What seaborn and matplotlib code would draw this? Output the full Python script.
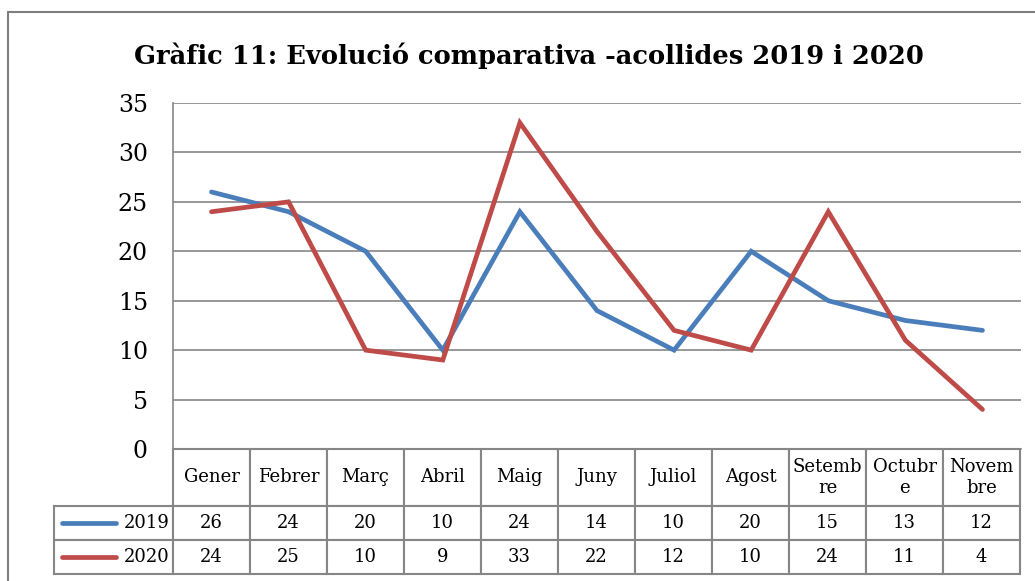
import matplotlib
matplotlib.use('Agg')
import matplotlib.pyplot as plt
import pandas as pd
import seaborn as sns
from matplotlib.patches import Rectangle

# Data
months = ['Gener', 'Febrer', 'Març', 'Abril', 'Maig', 'Juny', 'Juliol',
          'Agost', 'Setembre', 'Octubre', 'Novembre']
# how the month names wrap in the table header
month_labels = ['Gener', 'Febrer', 'Març', 'Abril', 'Maig', 'Juny', 'Juliol',
                'Agost', 'Setemb\nre', 'Octubr\ne', 'Novem\nbre']
acollides_2019 = [26, 24, 20, 10, 24, 14, 10, 20, 15, 13, 12]
acollides_2020 = [24, 25, 10, 9, 33, 22, 12, 10, 24, 11, 4]
series_names = ['2019', '2020']
colors = ['#4A7EBB', '#BE4B48']

df = pd.DataFrame({'mes': months * 2,
                   'pos': list(range(len(months))) * 2,
                   'valor': acollides_2019 + acollides_2020,
                   'any': ['2019'] * len(months) + ['2020'] * len(months)})

sns.set_theme(style='white')
plt.rcParams['font.family'] = ['DejaVu Serif']
plt.rcParams['text.color'] = 'black'
GRID = '#868686'

fig = plt.figure(figsize=(10.35, 5.81), dpi=100)
fig.set_facecolor('white')
# outer chart frame (cut off on the right and bottom like the screenshot)
fig.patches.append(Rectangle((0.0077, -0.1), 1.2, 1.079, transform=fig.transFigure,
                             fill=False, edgecolor='#7f7f7f', linewidth=1.5))

ax = fig.add_axes([0.1671, 0.2272, 0.8194, 0.5955])
sns.lineplot(data=df, x='pos', y='valor', hue='any', palette=colors,
             linewidth=3.4, ax=ax, legend=False, sort=False)
for ln in ax.get_lines():
    ln.set_solid_capstyle('round')
    ln.set_solid_joinstyle('miter')

ax.set_xlim(-0.5, len(months) - 0.5)
ax.set_ylim(0, 35)
ax.set_yticks(range(0, 36, 5))
ax.set_xticks([])
ax.set_xlabel('')
ax.set_ylabel('')
ax.yaxis.grid(True, color=GRID, linewidth=1.2)
ax.set_axisbelow(True)
ax.tick_params(axis='y', labelsize=17, pad=18, length=0, colors='black')
for s in ['top', 'right']:
    ax.spines[s].set_visible(False)
for s in ['left', 'bottom']:
    ax.spines[s].set_color(GRID)
    ax.spines[s].set_linewidth(1.2)

ax.set_title('Gràfic 11: Evolució comparativa -acollides 2019 i 2020',
             fontsize=18.5, fontweight='bold', pad=28, x=0.42, color='black')

# data table below the plot; first column holds the series names
head_h, row_h = 57, 34          # px
lab_w, col_w = 119, 77          # px
ax_w, ax_h = 848, 346           # px
tab_w = lab_w + col_w * len(months)
tab_h = head_h + 2 * row_h
cell_text = [[series_names[0]] + [str(v) for v in acollides_2019],
             [series_names[1]] + [str(v) for v in acollides_2020]]
tab = ax.table(cellText=cell_text, colLabels=[''] + month_labels,
               cellLoc='center', colLoc='center',
               colWidths=[lab_w] + [col_w] * len(months),
               bbox=[-lab_w / ax_w, -tab_h / ax_h, tab_w / ax_w, tab_h / ax_h])
tab.auto_set_font_size(False)
tab.set_fontsize(13)
for (r, c), cell in tab.get_celld().items():
    cell.set_edgecolor(GRID)
    cell.set_linewidth(1.5)
    cell.set_height(head_h if r == 0 else row_h)
    cell.get_text().set_color('black')
    cell.PAD = 0.03
    if c == 0:
        cell.get_text().set_horizontalalignment('right')
        cell._loc = 'right'
tab[0, 0].visible_edges = ''

# legend swatches inside the series name cells
for i, col in enumerate(colors):
    yc = -(head_h + row_h * (i + 0.5)) / ax_h
    ax.plot([-(lab_w - 8) / ax_w, -(lab_w - 62) / ax_w], [yc, yc],
            transform=ax.transAxes, color=col, linewidth=3.4,
            solid_capstyle='round', clip_on=False)

fig.savefig('out.png', dpi=100)
